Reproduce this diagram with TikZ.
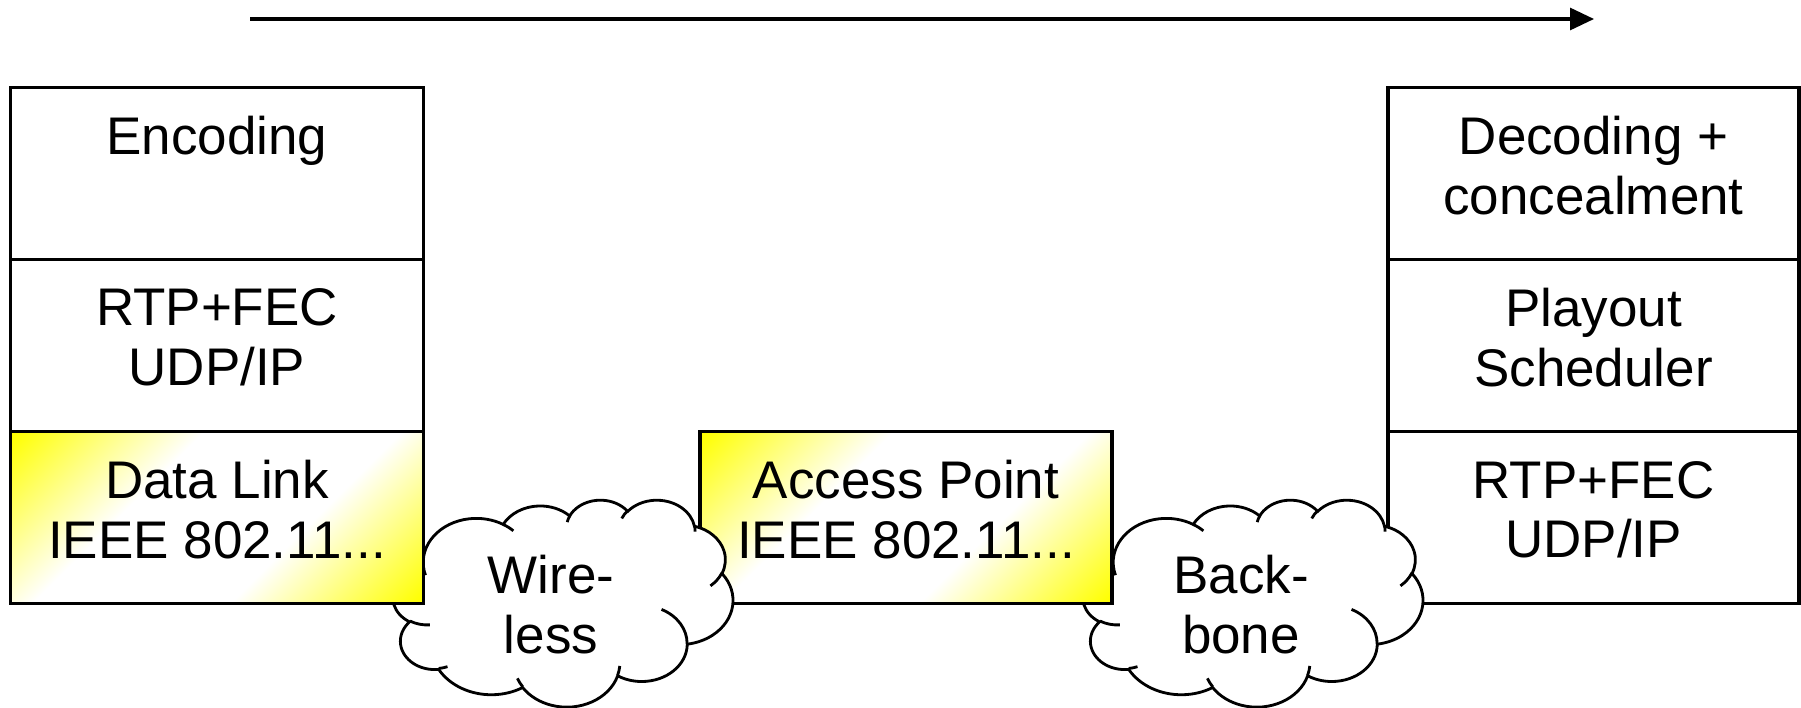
\documentclass[tikz,border=0pt]{standalone}
\usepackage{fontspec}
\setmainfont{Liberation Sans}
\usetikzlibrary{arrows.meta}
% yellow in two opposite corners, white across the middle
\pgfdeclarehorizontalshading{corners}{100bp}{color(0bp)=(yellow); color(15bp)=(yellow); color(38bp)=(white); color(62bp)=(white); color(85bp)=(yellow); color(100bp)=(yellow)}
\tikzset{
  layer/.style={draw, line width=0.9pt, fill=white, minimum width=4.13cm, minimum height=1.72cm,
    inner sep=0pt, align=center, execute at end node={\rule[-0.16cm]{0pt}{0pt}}},
  link/.style={layer, shade, shading=corners, shading angle=-45},
  nettext/.style={inner sep=0pt, align=center},
  % cloud outline on a 4320 x 4320 grid, arcs given by (x radius, y radius, angle, sweep)
  pics/puffs/.style 2 args={code={
    \begin{scope}[shift={(-#1/2,#2/2)}, x=#1cm/4320, y=-#2cm/4320, line width=0.8pt]
      \draw[fill=white] (390,1437)
        \foreach \rx/\ry/\st/\sw [evaluate=\st as \ta using {atan2(\rx*sin(\st),\ry*cos(\st))},
            evaluate=\st as \tb using {atan2(\rx*sin(\st+\sw),\ry*cos(\st+\sw))},
            evaluate=\tb as \td using {\tb-\ta+360*round((\sw-\tb+\ta)/360)}] in
          {675.3/919.0/-190.4875/123.7805, 533.3/726.7/-144.1024/89.9452,
           436.5/594.5/-145.8079/99.7230, 485.7/659.5/-130.9861/117.2417,
           533.3/727.3/-78.7089/109.0269, 677.5/922.0/-46.2673/130.2690,
           578.5/786.7/0.6250/114.0333, 675.2/921.5/22.4516/115.1726,
           772.0/1054.3/66.2426/75.7110, 436.0/591.8/-274.9421/146.7356,
           434.5/594.5/-246.8285/152.5189}
          { arc[start angle=\ta, delta angle=\td, x radius=\rx, y radius=\ry] } -- cycle;
      % small creases inside
      \draw
        \foreach \px/\py/\rx/\ry/\st/\sw [evaluate=\st as \ta using {atan2(\rx*sin(\st),\ry*cos(\st))},
            evaluate=\st as \tb using {atan2(\rx*sin(\st+\sw),\ry*cos(\st+\sw))},
            evaluate=\tb as \td using {\tb-\ta+360*round((\sw-\tb+\ta)/360)}] in
          {469.3/2617.7/434.5/594.5/86.7420/26.4295, 692.8/3489.9/436.0/591.8/73.6105/11.4475,
           1647.8/3909.0/675.2/921.5/137.6242/14.0811, 2882.7/3475.1/675.2/921.5/6.4533/15.9984,
           3412.9/2295.4/578.5/786.7/-70.2924/70.9174, 4179.8/1535.4/533.3/727.3/30.3180/27.7515,
           3832.4/542.6/485.7/659.5/-13.7443/14.8589, 2907.8/395.2/485.7/659.5/-149.1815/18.1959,
           2214.1/472.0/436.5/594.5/-163.4943/17.6932, 1400.0/519.2/675.3/919.0/-66.7070/12.3194,
           412.7/1578.9/675.3/919.0/157.6544/11.8582}
          { (\px,\py) arc[start angle=\ta, delta angle=\td, x radius=\rx, y radius=\ry] };
    \end{scope}}}
}
\begin{document}
\begin{tikzpicture}[font=\fontsize{15.07}{17.07}\selectfont]
\useasboundingbox (0,0) rectangle (18.01,-7.07);
% time axis
\coordinate (t0) at (2.5,-0.19);
\coordinate (t1) at (15.94,-0.19);
\draw[line width=0.9pt,-{Triangle[length=0.24cm,width=0.22cm]}] (t0) -- (t1);
% receiver
\node[layer,minimum width=4.11cm] (dec) at (15.935,-1.735) {Decoding +\\concealment};
\node[layer,minimum width=4.11cm] (play) at (15.935,-3.455) {Playout\\Scheduler};
\node[layer,minimum width=4.11cm] (rtpr) at (15.935,-5.175) {RTP+FEC\\UDP/IP};
% backbone, then access point over it
\pic at (12.53,-6.03) {puffs={3.4}{2.07}};
\node[nettext] (bb) at (12.41,-6.05) {Back-\\bone};
\node[link,minimum width=4.12cm] (ap) at (9.06,-5.175) {Access Point\\IEEE 802.11...};
\pic at (5.63,-6.03) {puffs={3.4}{2.07}};
\node[nettext] (wl) at (5.51,-6.05) {Wire-\\less};
% sender
\node[layer] (enc) at (2.17,-1.735) {Encoding\\\mbox{}};
\node[layer] (rtps) at (2.17,-3.455) {RTP+FEC\\UDP/IP};
\node[link] (dl) at (2.17,-5.175) {Data Link\\IEEE 802.11...};
\end{tikzpicture}
\end{document}
